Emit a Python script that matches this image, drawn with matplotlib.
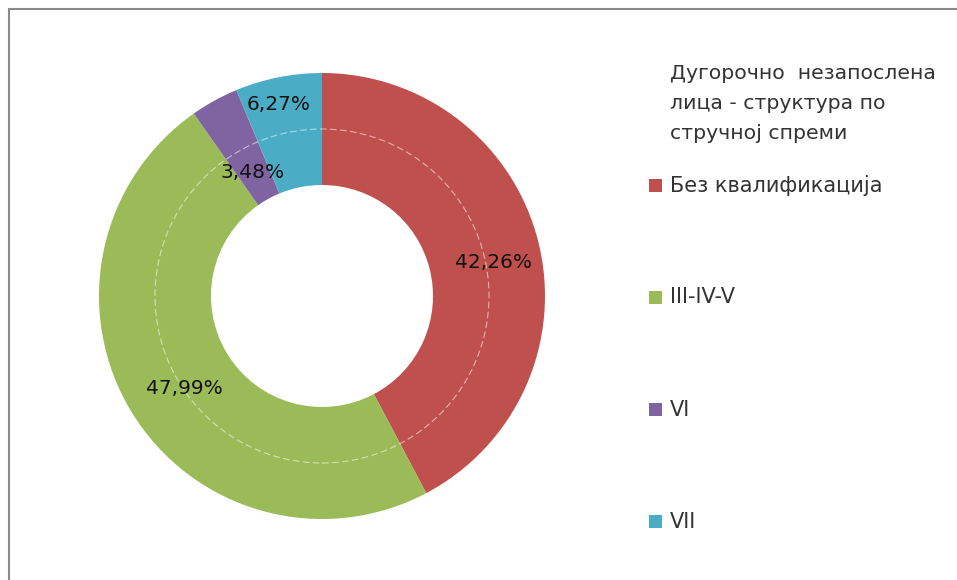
import numpy as np
import matplotlib
matplotlib.use('Agg')
import matplotlib.pyplot as plt
from matplotlib.patches import Rectangle, Circle

# податоци
categories = ['Без квалификација', 'III-IV-V', 'VI', 'VII']
values = [42.26, 47.99, 3.48, 6.27]
labels = ['42,26%', '47,99%', '3,48%', '6,27%']
colors = ['#C0504D', '#9BBB59', '#8064A2', '#4BACC6']
label_r = [0.785, 0.744, 0.636, 0.878]   # радијус на ознаките
label_turn = [3.0, -2.2, -0.3, -1.4]     # поместување на ознаките (степени)
title = 'Дугорочно  незапослена\nлица - структура по\nстручној спреми'

W, H = 957, 580
fig = plt.figure(figsize=(W / 100, H / 100), dpi=100)
fig.patch.set_facecolor('white')

# рамка
fig.patches.append(Rectangle((9 / W, -0.05), 1.1, (H - 9) / H + 0.05,
                             transform=fig.transFigure, fill=False,
                             edgecolor='#8a8a8a', linewidth=1.5))

# кружен дијаграм
R = 223
cx, cy = 322, H - 296
ax = fig.add_axes([(cx - R) / W, (cy - R) / H, 2 * R / W, 2 * R / H])

wedges, _ = ax.pie(values, colors=colors, startangle=90, counterclock=False,
                   radius=1.0, wedgeprops=dict(width=(R - 111) / R, edgecolor='none'))
ax.set_xlim(-1, 1)
ax.set_ylim(-1, 1)
ax.axis('off')
ax.add_patch(Circle((0, 0), 167 / R, fill=False, edgecolor='white',
                    linewidth=0.8, linestyle=(0, (6, 3)), alpha=0.55))

for w, lab, r, t in zip(wedges, labels, label_r, label_turn):
    ang = np.deg2rad((w.theta1 + w.theta2) / 2 - t)
    ax.text(r * np.cos(ang), r * np.sin(ang), lab, ha='center', va='center',
            fontsize=14.5, color='#111111', family='DejaVu Sans')

# легенда
fig.text(670 / W, 1 - 64 / H, title, ha='left', va='top', fontsize=14.7,
         color='#333333', linespacing=1.72)
y0, step = 185, 112.3
for i, (cat, col) in enumerate(zip(categories, colors)):
    y = y0 + i * step
    fig.patches.append(Rectangle((649 / W, 1 - (y + 6.5) / H), 13 / W, 13 / H,
                                 transform=fig.transFigure, facecolor=col,
                                 edgecolor='none'))
    fig.text(670 / W, 1 - y / H, cat, ha='left', va='center', fontsize=15,
             color='#333333')

fig.savefig('out.png', dpi=100)
